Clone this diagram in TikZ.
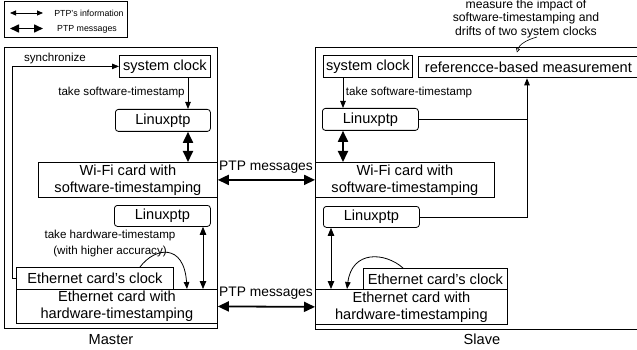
\documentclass[tikz,border=0pt]{standalone}
\usepackage{fontspec}
\setmainfont{Liberation Sans}
\usetikzlibrary{arrows.meta}
\begin{document}
\begin{tikzpicture}[x=1pt,y=-1pt,
  box/.style={draw, line width=0.8pt, inner sep=0pt, anchor=north west, align=center,
    font=\fontsize{14.6}{17}\selectfont},
  rbox/.style={box, rounded corners=3pt},
  lbl/.style={inner sep=0pt, align=center, font=\fontsize{11.6}{15.5}\selectfont},
  biglbl/.style={inner sep=0pt, align=center, font=\fontsize{14.6}{17}\selectfont},
  onearr/.style={line width=0.8pt, -{Triangle[length=7pt,width=5.5pt]}},
  infoarr/.style={line width=0.8pt, {Triangle[length=8pt,width=6.5pt]}-{Triangle[length=8pt,width=6.5pt]}},
  msgarr/.style={line width=1.8pt, {Triangle[length=11pt,width=10pt]}-{Triangle[length=11pt,width=10pt]}},
  plainline/.style={line width=0.8pt},
]
\useasboundingbox (0,0) rectangle (637,350);

% legend
\node[draw, line width=0.8pt, inner sep=0pt, anchor=north west, minimum width=123, minimum height=36] (legend) at (4,1.5) {};
\coordinate (l1a) at (10,13);
\coordinate (l1b) at (43,13);
\coordinate (l2a) at (10,28.5);
\coordinate (l2b) at (43,28.5);
\draw[line width=0.8pt, {Triangle[length=6pt,width=5pt]}-{Triangle[length=6pt,width=5pt]}] (l1a) -- (l1b);
\draw[line width=1.6pt, {Triangle[length=9pt,width=8pt]}-{Triangle[length=9pt,width=8pt]}] (l2a) -- (l2b);
\node[inner sep=0pt, font=\fontsize{8.8}{10}\selectfont] (l1t) at (89,13) {PTP's information};
\node[inner sep=0pt, font=\fontsize{8.8}{10}\selectfont] (l2t) at (87,29) {PTP messages};

% master
\node[box, minimum width=213, minimum height=281] (master) at (4,47) {};
\node[biglbl] (masterlbl) at (111,340) {Master};
\node[box, minimum width=91, minimum height=22] (sysM) at (119,55) {system clock};
\node[rbox, minimum width=95, minimum height=22] (linM1) at (115,109) {Linuxptp};
\node[box, minimum width=179, minimum height=35] (wifiM) at (38,162) {Wi-Fi card with\\software-timestamping};
\node[rbox, minimum width=96, minimum height=21] (linM2) at (114,205) {Linuxptp};
\node[box, minimum width=157, minimum height=22] (ethclkM) at (16,267) {Ethernet card’s clock};
\node[box, minimum width=201, minimum height=34] (ethM) at (16,289) {Ethernet card with\\hardware-timestamping};

\coordinate (xM1) at (188,0);
\coordinate (xM2) at (203,0);
\coordinate (xM3) at (187,0);
\coordinate (cM) at (140,267);

\draw[onearr] (ethclkM.west) -- ++(-4,0) |- (sysM.west);
\node[lbl] (syncl) at (55,58.5) {synchronize};
\draw[onearr] (sysM.south -| xM1) -- (linM1.north -| xM1);
\node[lbl] (swtsM) at (121.5,92.5) {take software-timestamp};
\draw[msgarr] (linM1.south -| xM1) -- (wifiM.north -| xM1);
\draw[infoarr] (linM2.south -| xM2) -- (ethM.north -| xM2);
\node[lbl] (hwts) at (110,243.5) {take hardware-timestamp\\(with higher accuracy)};
\draw[onearr] (cM) .. controls (155,247) and (184,243) .. (ethM.north -| xM3);

% slave
\node[box, minimum width=325, minimum height=282] (slave) at (315,47) {};
\node[biglbl] (slavelbl) at (482,339) {Slave};
\node[box, minimum width=89, minimum height=21.5] (sysS) at (323,55.5) {system clock};
\node[box, minimum width=220, minimum height=21] (meas) at (418,56.5) {referencce-based measurement};
\node[rbox, minimum width=96, minimum height=22] (linS1) at (322,108) {Linuxptp};
\node[box, minimum width=179, minimum height=35] (wifiS) at (315,162) {Wi-Fi card with\\software-timestamping};
\node[rbox, minimum width=96, minimum height=21] (linS2) at (323,206) {Linuxptp};
\node[box, minimum width=144, minimum height=21] (ethclkS) at (363,268) {Ethernet card’s clock};
\node[box, minimum width=192, minimum height=35] (ethS) at (315,289) {Ethernet card with\\hardware-timestamping};

\coordinate (xS1) at (343,0);
\coordinate (xS2) at (331,0);
\coordinate (xS3) at (527,0);
\coordinate (xS4) at (347,0);
\coordinate (cS) at (403,268);

\draw[onearr] (sysS.south -| xS1) -- (linS1.north -| xS1);
\node[lbl] (swtsS) at (409,93) {take software-timestamp};
\draw[msgarr] (linS1.south -| xS1) -- (wifiS.north -| xS1);
\draw[plainline] (linS1.east) -- (linS1.east -| xS3);
\draw[onearr] (linS2.east) -| (meas.south -| xS3);
\draw[infoarr] (linS2.south -| xS2) -- (ethS.north -| xS2);
\draw[onearr] (cS) .. controls (385,252) and (352,250) .. (ethS.north -| xS4);

% annotation
\node[inner sep=0pt, align=center, font=\fontsize{12.2}{13.6}\selectfont] (annot) at (526,18.5)
  {measure the impact of\\software-timestamping and\\drifts of two system clocks};
\coordinate (an1) at (537,37);
\coordinate (an2) at (517,52.5);
\draw[line width=0.6pt, -{Triangle[open,length=4pt,width=4pt]}] (an1) .. controls (526,40) and (519,45) .. (an2);

% PTP messages between master and slave
\draw[msgarr] (wifiM.east) -- (wifiS.west);
\node[biglbl, font=\fontsize{13.8}{16}\selectfont] (ptp1) at (266,167) {PTP messages};
\draw[msgarr] (ethM.east) -- (ethS.west);
\node[biglbl, font=\fontsize{13.8}{16}\selectfont] (ptp2) at (266,293) {PTP messages};
\end{tikzpicture}
\end{document}
